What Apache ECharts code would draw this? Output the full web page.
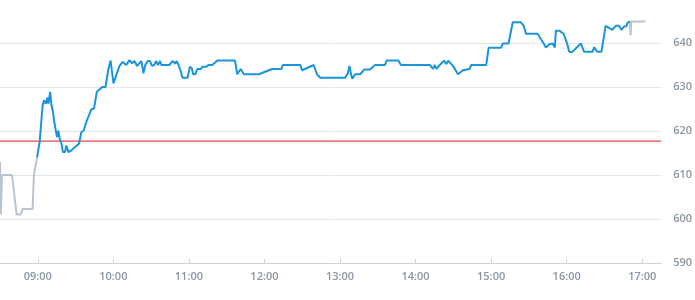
<!DOCTYPE html>
<html>
<head>
<meta charset="utf-8">
<script src="https://cdn.jsdelivr.net/npm/echarts@6/dist/echarts.min.js"></script>
<style>html,body{margin:0;padding:0;background:#fff;}#c{width:695px;height:300px;}</style>
</head>
<body>
<div id="c"></div>
<script>
var day = [2024, 0, 2];
var xTickLabels = ["09:00","10:00","11:00","12:00","13:00","14:00","15:00","16:00","17:00"];
var yTickLabels = [590, 600, 610, 620, 630, 640];
var referenceLevel = 617.7;
var axisStart = "08:30";
var axisEnd = "17:15";

var preTimes = ["08:30:00","08:30:36","08:31:36","08:39:30","08:43:12","08:46:24","08:48:00","08:55:54","08:56:54","08:59:30"];
var preValues = [613, 601, 610, 610, 601, 601, 602.3, 602.3, 610, 614];

var sessTimes = ["08:59:30","09:01:36","09:03:48","09:05:00","09:06:24","09:07:42","09:08:30","09:09:48","09:10:54","09:12:06",
"09:12:54","09:14:18","09:15:18","09:16:24","09:17:24","09:18:48","09:20:00","09:21:36","09:22:42","09:24:18",
"09:26:42","09:29:18","09:32:42","09:34:36","09:36:24","09:38:30","09:42:30","09:44:36","09:46:54","09:48:30",
"09:51:12","09:53:48","09:55:54","09:57:48","10:00:06","10:02:18","10:04:54","10:07:30","10:10:12","10:12:48",
"10:14:54","10:16:42","10:18:54","10:20:42","10:22:18","10:23:54","10:25:24","10:27:18","10:29:06","10:30:42",
"10:32:30","10:33:54","10:35:30","10:37:06","10:38:06","10:44:24","10:47:00","10:49:12","10:50:12","10:51:48",
"10:53:42","10:54:54","10:58:54","11:00:48","11:02:24","11:03:24","11:05:00","11:06:48","11:09:30","11:10:42",
"11:13:54","11:15:30","11:18:36","11:22:36","11:36:36","11:38:24","11:41:06","11:43:42","11:55:36","12:06:06",
"12:13:30","12:14:30","12:28:30","12:29:48","12:39:06","12:41:42","12:43:00","12:44:18","13:04:06","13:06:12",
"13:07:30","13:08:54","13:09:54","13:12:00","13:16:00","13:19:24","13:23:54","13:27:48","13:35:42","13:37:00",
"13:46:18","13:48:24","14:11:18","14:13:54","14:15:18","14:16:30","14:19:12","14:22:36","14:24:30","14:25:48",
"14:29:42","14:33:42","14:37:36","14:42:54","14:44:12","14:56:06","14:58:00","15:07:54","15:09:18","15:13:48",
"15:17:12","15:23:42","15:25:54","15:27:42","15:36:54","15:39:06","15:41:42","15:43:30","15:46:12","15:48:48",
"15:50:36","15:51:24","15:54:06","15:57:30","16:00:06","16:02:00","16:03:48","16:06:00","16:11:12","16:13:54",
"16:20:24","16:21:48","16:23:00","16:24:24","16:27:36","16:30:54","16:36:12","16:38:54","16:41:30","16:43:24",
"16:45:30","16:47:36","16:48:06","16:49:24","16:50:12"];
var sessValues = [614, 617.8, 625.8, 627, 626.2, 627.6, 626.2, 628.9, 625.8, 624.3,
622.4, 620.1, 618.6, 620.1, 618.2, 617.1, 615.2, 615.2, 616.7, 615.2,
615.6, 616.3, 617.1, 619.7, 620.1, 622, 624.9, 625.1, 628.9, 629.3,
630, 630, 633.8, 636, 630.8, 632.7, 634.8, 635.7, 635, 636.1,
635.4, 635.9, 634.8, 635.4, 635.9, 633.1, 635, 635.9, 635.9, 634.8,
635, 635.9, 635, 635.9, 635, 635, 635.9, 635.3, 635.9, 635,
633.4, 632.1, 632.1, 634.6, 634.2, 632.9, 632.9, 634.1, 634.1, 634.6,
634.6, 635, 635, 636, 636, 632.9, 634.1, 632.9, 632.9, 634.1,
634.1, 635, 635, 633.8, 635, 632.9, 632.7, 632.1, 632.1, 633.1,
634.8, 632.7, 631.9, 632.9, 632.9, 634, 634, 635, 635, 636,
636, 635, 635, 634.1, 635, 634.1, 635, 636, 635.2, 636,
634.8, 632.9, 633.8, 634.1, 635, 635, 638.9, 638.9, 639.9, 639.9,
644.7, 644.7, 643.9, 642.1, 642.1, 641.1, 639.9, 639, 639.7, 639.9,
639, 642.8, 642.8, 642.1, 640.1, 638, 637.9, 638.4, 639.9, 638,
638, 639, 639, 638, 638, 643.9, 643, 643.9, 643.9, 643,
643.7, 643.9, 644.5, 644.9, 644.9];

var postTimes = ["16:50:12","16:50:42","16:51:18","17:02:36"];
var postValues = [644.9, 641.8, 644.9, 644.9];

function ts(s) {
  var p = s.split(":").map(Number);
  return new Date(day[0], day[1], day[2], p[0], p[1], p[2] || 0).getTime();
}
function pairs(times, values) {
  return times.map(function (t, i) { return [ts(t), values[i]]; });
}

var labelColor = "#8a96a3";
var chart = echarts.init(document.getElementById("c"), null, {renderer: "canvas"});
chart.setOption({
  animation: false,
  grid: {left: 0, right: 31, top: 21, bottom: 37, containLabel: false},
  xAxis: {
    type: "time",
    min: ts(axisStart),
    max: ts(axisEnd),
    minInterval: 3600000,
    maxInterval: 3600000,
    axisLine: {show: true, lineStyle: {color: "#ccd3db", width: 1}},
    axisTick: {show: true, inside: true, length: 4, lineStyle: {color: "#ccd3db"}},
    splitLine: {show: false},
    axisLabel: {
      color: labelColor, fontFamily: "Open Sans", fontSize: 11, fontWeight: 600, margin: 8,
      showMinLabel: false, showMaxLabel: false,
      formatter: function (v) {
        var d = new Date(v);
        var s = (d.getHours() < 10 ? "0" : "") + d.getHours() + ":" + (d.getMinutes() < 10 ? "0" : "") + d.getMinutes();
        return xTickLabels.indexOf(s) >= 0 ? s : "";
      }
    }
  },
  yAxis: {
    type: "value",
    position: "right",
    min: 590,
    max: 645,
    interval: 10,
    axisLine: {show: false},
    axisTick: {show: false},
    splitLine: {show: true, showMaxLine: false, lineStyle: {color: "#e3e7eb", width: 1}},
    axisLabel: {
      color: labelColor, fontFamily: "Open Sans", fontSize: 11, fontWeight: 600, margin: 12,
      showMaxLabel: false,
      formatter: function (v) { return yTickLabels.indexOf(v) >= 0 ? String(v) : ""; }
    }
  },
  series: [
    {
      type: "line", name: "reference", data: [[ts(axisStart), referenceLevel], [ts(axisEnd), referenceLevel]],
      showSymbol: false, symbol: "none", silent: true,
      itemStyle: {color: "#d42020"},
      lineStyle: {color: "#d42020", width: 1}, z: 1
    },
    {
      type: "line", name: "pre", data: pairs(preTimes, preValues), showSymbol: false, symbol: "none",
      itemStyle: {color: "#b9c4ce"},
      lineStyle: {color: "#b9c4ce", width: 2}, z: 2
    },
    {
      type: "line", name: "post", data: pairs(postTimes, postValues), showSymbol: false, symbol: "none",
      itemStyle: {color: "#b9c4ce"},
      lineStyle: {color: "#b9c4ce", width: 2}, z: 2
    },
    {
      type: "line", name: "session", data: pairs(sessTimes, sessValues), showSymbol: false, symbol: "none",
      itemStyle: {color: "#1a95dc"},
      lineStyle: {color: "#1a95dc", width: 2}, z: 3
    }
  ]
});
</script>
</body>
</html>
